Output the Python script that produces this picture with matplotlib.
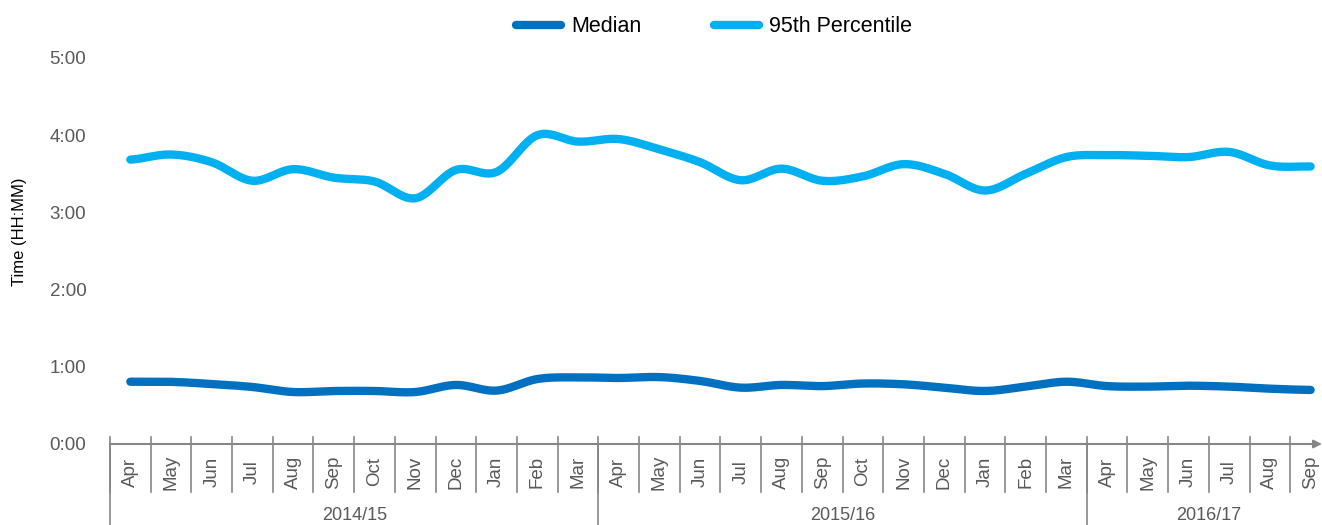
import numpy as np
import matplotlib.pyplot as plt

plt.rcParams['font.family'] = ['Liberation Sans', 'DejaVu Sans']

# data, minutes
months = ['Apr', 'May', 'Jun', 'Jul', 'Aug', 'Sep', 'Oct', 'Nov', 'Dec', 'Jan', 'Feb', 'Mar',
          'Apr', 'May', 'Jun', 'Jul', 'Aug', 'Sep', 'Oct', 'Nov', 'Dec', 'Jan', 'Feb', 'Mar',
          'Apr', 'May', 'Jun', 'Jul', 'Aug', 'Sep']
years = ['2014/15', '2015/16', '2016/17']
year_len = [12, 12, 6]
median = [48.4, 48.3, 46.6, 44.3, 40.4, 41.2, 41.2, 40.4, 45.9, 41.5, 50.5, 51.8,
          51.3, 52.0, 49.0, 43.8, 45.9, 45.0, 47.0, 46.4, 43.8, 41.2, 44.6, 48.4,
          45.0, 44.6, 45.3, 44.6, 43.0, 42.0]
p95 = [221, 225, 219, 204.6, 213.6, 207, 204, 191, 213, 211.5, 240, 235,
       237, 229, 219, 205, 214, 204.6, 208, 217.5, 210, 197, 210, 223,
       224.5, 224, 223, 227, 216.5, 215.7]
yticks = [0, 60, 120, 180, 240, 300]
ytick_labels = ['0:00', '1:00', '2:00', '3:00', '4:00', '5:00']

C_MED = '#0070C0'
C_95 = '#00B0F0'
GREY = '#868686'
TXT = '#595959'


def smooth(y, n=20, t=0.5):
    # cardinal spline like excel "smoothed line"
    y = np.asarray(y, float)
    p = np.concatenate([[y[0]], y, [y[-1]]])
    xs, ys = [], []
    for i in range(len(y) - 1):
        p0, p1, p2, p3 = p[i], p[i + 1], p[i + 2], p[i + 3]
        m1 = t * (p2 - p0)
        m2 = t * (p3 - p1)
        s = np.linspace(0, 1, n, endpoint=False)
        h00 = 2 * s**3 - 3 * s**2 + 1
        h10 = s**3 - 2 * s**2 + s
        h01 = -2 * s**3 + 3 * s**2
        h11 = s**3 - s**2
        ys.append(h00 * p1 + h10 * m1 + h01 * p2 + h11 * m2)
        xs.append(i + s)
    xs.append([len(y) - 1])
    ys.append([y[-1]])
    return np.concatenate(xs), np.concatenate(ys)


fig = plt.figure(figsize=(13.22, 5.25), dpi=100)
ax = fig.add_axes([110 / 1322, 81 / 525, 1212 / 1322, 386 / 525])

x1, y1 = smooth(median)
x2, y2 = smooth(p95)
ax.plot(x1, y1, color=C_MED, lw=6, solid_capstyle='round', label='Median')
ax.plot(x2, y2, color=C_95, lw=6, solid_capstyle='round', label='95th Percentile')

ax.set_xlim(-0.5, 29.28)
ax.set_ylim(0, 300)
ax.set_yticks(yticks)
ax.set_yticklabels(ytick_labels)
ax.set_xticks([])
ax.tick_params(axis='y', length=0, pad=17, labelsize=13.5, labelcolor=TXT)
for s in ax.spines.values():
    s.set_visible(False)

# x axis line with arrow
ax.annotate('', xy=(1.0, 0), xytext=(0, 0), xycoords='axes fraction',
            arrowprops=dict(arrowstyle='-|>', color=GREY, lw=1.5, mutation_scale=12,
                            shrinkA=0, shrinkB=0), annotation_clip=False)

tr = ax.get_xaxis_transform()
for i, m in enumerate(months):
    ax.text(i, -0.0725, m, transform=tr, rotation=90, ha='center', va='center',
            fontsize=13.5, color=TXT)
for k in range(len(months)):
    ax.plot([k - 0.5, k - 0.5], [0.018, -0.124], transform=tr, color=GREY, lw=1.2,
            clip_on=False)

start = 0
for yr, n in zip(years, year_len):
    ax.plot([start - 0.5, start - 0.5], [0, -0.22], transform=tr, color=GREY, lw=1.2,
            clip_on=False)
    ax.text(start + (n - 1) / 2, -0.1865, yr, transform=tr, ha='center', va='center',
            fontsize=13, color=TXT)
    start += n

fig.text(0.015, 1 - 232 / 525, 'Time (HH:MM)', rotation=90, ha='center', va='center',
         fontsize=12)

fig.legend(loc='center', bbox_to_anchor=(714 / 1322, 1 - 27 / 525), ncol=2, frameon=False,
           fontsize=15.5, handlelength=2.1, handletextpad=0.45, columnspacing=3.4)

fig.savefig('out.png', dpi=100)
